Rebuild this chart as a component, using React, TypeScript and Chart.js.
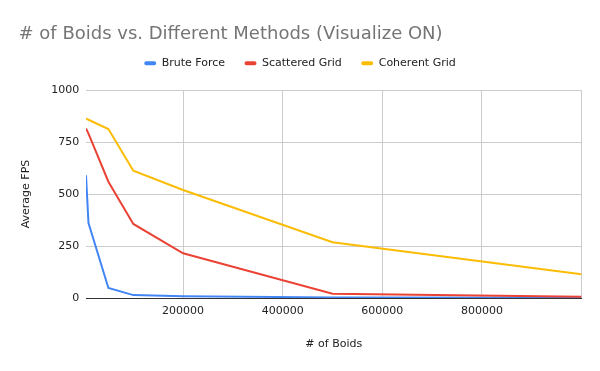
import React, { useEffect, useRef } from 'react';
import { Chart, registerables } from 'chart.js';

Chart.register(...registerables);

// ---- data ----
const BOIDS = [5000, 10000, 50000, 100000, 200000, 500000, 1000000];
const BRUTE_FORCE = [590, 360, 48, 14, 8, 3, 1];
const SCATTERED_GRID = [815, 790, 559, 356, 215, 21, 6];
const COHERENT_GRID = [862, 857, 812, 612, 519, 268, 114];

const SERIES_NAMES = ['Brute Force', 'Scattered Grid', 'Coherent Grid'];
const X_TICKS = [200000, 400000, 600000, 800000, 1000000];
const X_TICK_LABELS = ['200000', '400000', '600000', '800000', ''];
const Y_TICKS = [0, 250, 500, 750, 1000];
const Y_TICK_LABELS = ['0', '250', '500', '750', '1000'];

const TITLE = '# of Boids vs. Different Methods (Visualize ON)';
const X_TITLE = '# of Boids';
const Y_TITLE = 'Average FPS';

export default function App() {
  const ref = useRef<HTMLCanvasElement>(null);

  useEffect(() => {
    const FONT = 'DejaVu Sans';
    const small = { family: FONT, size: 11, weight: 'normal' as const, lineHeight: 1.2 };
    const toPts = (ys: number[]) => BOIDS.map((x, i) => ({ x, y: ys[i] }));
    const colors = ['#4285F4', '#EA4335', '#FBBC04'];
    const series = [BRUTE_FORCE, SCATTERED_GRID, COHERENT_GRID];

    const chart = new Chart(ref.current as HTMLCanvasElement, {
      type: 'line',
      data: {
        datasets: series.map((ys, i) => ({
          label: SERIES_NAMES[i],
          data: toPts(ys),
          borderColor: colors[i],
          backgroundColor: colors[i],
          borderWidth: 2,
          pointRadius: 0,
          pointHoverRadius: 0,
          tension: 0,
          order: 2 - i,
        })),
      },
      options: {
        responsive: false,
        animation: false,
        devicePixelRatio: 1,
        layout: { padding: { left: 18.5, right: 18.5, top: 0, bottom: 0 } },
        plugins: {
          title: {
            display: true,
            text: TITLE,
            align: 'start',
            color: '#757575',
            font: { family: FONT, size: 18, weight: 'normal', lineHeight: 1.2 },
            padding: { top: 23.8, bottom: -7 },
          },
          legend: {
            display: true,
            position: 'top',
            align: 'center',
            labels: {
              boxWidth: 12,
              boxHeight: 4,
              useBorderRadius: true,
              borderRadius: 2,
              padding: 19.4,
              color: '#222222',
              font: small,
              sort: (a: any, b: any) => a.datasetIndex - b.datasetIndex,
              generateLabels: (c: any) =>
                (Chart.defaults.plugins.legend.labels.generateLabels as any)(c).map((l: any) => ({
                  ...l,
                  lineWidth: 0,
                })),
            },
          },
          subtitle: {
            display: true,
            text: ' ',
            position: 'top',
            weight: 500,
            font: { family: FONT, size: 10, lineHeight: 1.12 },
            padding: 0,
          } as any,
          tooltip: { enabled: false },
        },
        scales: {
          x: {
            type: 'linear',
            min: BOIDS[0],
            max: BOIDS[BOIDS.length - 1],
            afterBuildTicks: (s: any) => {
              s.ticks = X_TICKS.map((v) => ({ value: v }));
            },
            afterFit: (s: any) => {
              s.height = 73;
            },
            ticks: {
              autoSkip: false,
              maxRotation: 0,
              padding: 7,
              color: '#222222',
              font: small,
              callback: (v: any) => {
                const i = X_TICKS.indexOf(Number(v));
                return i >= 0 ? X_TICK_LABELS[i] : '';
              },
            },
            grid: { color: '#cccccc', drawTicks: false, lineWidth: 1 },
            border: { display: true, color: '#333333', width: 1 },
            title: {
              display: true,
              text: X_TITLE,
              color: '#222222',
              font: small,
              padding: { top: 0, bottom: 20.4 },
            },
          },
          y: {
            type: 'linear',
            min: Y_TICKS[0],
            max: Y_TICKS[Y_TICKS.length - 1],
            afterBuildTicks: (s: any) => {
              s.ticks = Y_TICKS.map((v) => ({ value: v }));
            },
            afterFit: (s: any) => {
              s.width = 67.5;
            },
            ticks: {
              padding: 6.7,
              color: '#222222',
              font: small,
              callback: (v: any) => {
                const i = Y_TICKS.indexOf(Number(v));
                return i >= 0 ? Y_TICK_LABELS[i] : '';
              },
            },
            grid: { color: '#cccccc', drawTicks: false, lineWidth: 1 },
            border: { display: false },
            title: {
              display: true,
              text: Y_TITLE,
              color: '#222222',
              font: small,
              padding: { top: 1.3, bottom: 0 },
            },
          },
        },
      } as any,
    });

    return () => chart.destroy();
  }, []);

  return (
    <div style={{ position: 'absolute', left: 0, top: 0, width: 600, height: 371, background: '#ffffff' }}>
      <canvas ref={ref} width={600} height={371} style={{ width: 600, height: 371, display: 'block' }} />
    </div>
  );
}
